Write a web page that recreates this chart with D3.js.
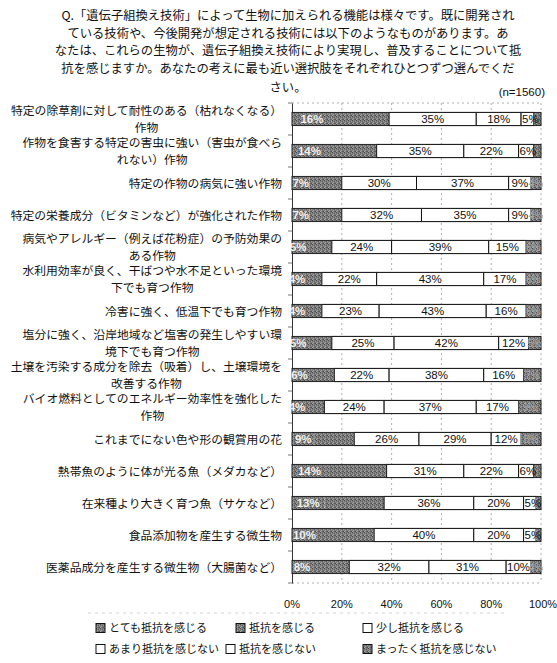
<!DOCTYPE html>
<html>
<head>
<meta charset="utf-8">
<script src="https://cdn.jsdelivr.net/npm/d3@7"></script>
<style>
  html, body { margin: 0; padding: 0; background: #fff; }
  svg { display: block; }
</style>
</head>
<body>
<div id="chart"></div>
<script>
// Question text, one entry per printed line
const titleLines = [
  "Q.「遺伝子組換え技術」によって生物に加えられる機能は様々です。既に開発され",
  "ている技術や、今後開発が想定される技術には以下のようなものがあります。あ",
  "なたは、これらの生物が、遺伝子組換え技術により実現し、普及することについて抵",
  "抗を感じますか。あなたの考えに最も近い選択肢をそれぞれひとつずつ選んでくだ",
  "さい。"
];
const sampleNote = "(n=1560)";

// Items asked about (line breaks as printed)
const categories = [
  "特定の除草剤に対して耐性のある（枯れなくなる）\n作物",
  "作物を食害する特定の害虫に強い（害虫が食べら\nれない）作物",
  "特定の作物の病気に強い作物",
  "特定の栄養成分（ビタミンなど）が強化された作物",
  "病気やアレルギー（例えば花粉症）の予防効果の\nある作物",
  "水利用効率が良く、干ばつや水不足といった環境\n下でも育つ作物",
  "冷害に強く、低温下でも育つ作物",
  "塩分に強く、沿岸地域など塩害の発生しやすい環\n境下でも育つ作物",
  "土壌を汚染する成分を除去（吸着）し、土壌環境を\n改善する作物",
  "バイオ燃料としてのエネルギー効率性を強化した\n作物",
  "これまでにない色や形の観賞用の花",
  "熱帯魚のように体が光る魚（メダカなど）",
  "在来種より大きく育つ魚（サケなど）",
  "食品添加物を産生する微生物",
  "医薬品成分を産生する微生物（大腸菌など）"
];

// Answer options, in stacking order
const seriesNames = [
  "とても抵抗を感じる",
  "抵抗を感じる",
  "少し抵抗を感じる",
  "あまり抵抗を感じない",
  "抵抗を感じない",
  "まったく抵抗を感じない"
];

// Percentages per item for each answer option
const veryStrong = [16, 14, 7, 7, 5, 4, 4, 5, 6, 4, 9, 14, 13, 10, 8];
const strong     = [23, 20, 13, 13, 11, 8, 8, 11, 11, 9, 16, 24, 24, 23, 15];
const somewhat   = [35, 35, 30, 32, 24, 22, 23, 25, 22, 24, 26, 31, 36, 40, 32];
const notMuch    = [18, 22, 37, 35, 39, 43, 43, 42, 38, 37, 29, 22, 20, 20, 31];
const noResist   = [5, 6, 9, 9, 15, 17, 16, 12, 16, 17, 12, 6, 5, 5, 10];
const notAtAll   = [3, 3, 4, 4, 6, 6, 6, 5, 7, 9, 8, 3, 2, 2, 4];

const xTicks = [0, 20, 40, 60, 80, 100];

const seriesValues = [veryStrong, strong, somewhat, notMuch, noResist, notAtAll];
const rows = categories.map((c, i) => {
  const r = { category: c };
  seriesNames.forEach((s, k) => { r[s] = seriesValues[k][i]; });
  return r;
});

const W = 557, H = 663;
const plot = { left: 292, right: 541, top: 103, bottom: 583 };
const jpFont = "'Noto Sans CJK JP', 'Noto Sans', sans-serif";
const numFont = "'Liberation Sans Narrow', 'Arial Narrow', 'Liberation Sans', Arial, sans-serif";

const svg = d3.select("#chart").append("svg")
  .attr("width", W).attr("height", H)
  .style("background", "#fff");

// Grainy grey fill used for the shaded answer options
const defs = svg.append("defs");
const pat = defs.append("pattern")
  .attr("id", "shade").attr("patternUnits", "userSpaceOnUse")
  .attr("width", 4).attr("height", 4);
pat.append("rect").attr("width", 4).attr("height", 4).attr("fill", "#7a7a7a");
[[0, 0, "#4a4a4a"], [2, 1, "#5c5c5c"], [1, 2, "#a2a2a2"], [3, 3, "#505050"], [3, 1, "#959595"], [0, 3, "#a8a8a8"], [2, 3, "#626262"], [1, 0, "#8e8e8e"]]
  .forEach(([x, y, c]) => pat.append("rect").attr("x", x).attr("y", y).attr("width", 1).attr("height", 1).attr("fill", c));

const shaded = [true, true, false, false, false, true];
const fillFor = k => shaded[k] ? "url(#shade)" : "#fff";

// Title
const title = svg.append("g").attr("font-family", jpFont).attr("font-size", 12.3).attr("fill", "#111");
titleLines.forEach((t, i) => {
  title.append("text")
    .attr("x", 288).attr("y", 20 + i * 17.6 + (i === 4 ? 2 : 0))
    .attr("text-anchor", "middle").text(t);
});
svg.append("text")
  .attr("x", 545).attr("y", 96).attr("text-anchor", "end")
  .attr("font-family", numFont).attr("font-size", 11.5).attr("fill", "#111")
  .text(sampleNote);

// Scales
const x = d3.scaleLinear().domain([0, 1]).range([plot.left, plot.right]);
const y = d3.scaleBand().domain(categories).range([plot.top, plot.bottom])
  .paddingInner(0.59).paddingOuter(0.295);

// Dashed gridlines and frame
const grid = svg.append("g").attr("stroke", "#9a9a9a").attr("stroke-width", 0.8).attr("stroke-dasharray", "2,3");
xTicks.filter(v => v > 0).forEach(v => {
  grid.append("line").attr("x1", x(v / 100)).attr("x2", x(v / 100))
    .attr("y1", plot.top).attr("y2", plot.bottom);
});
grid.append("line").attr("x1", plot.left).attr("x2", plot.right).attr("y1", plot.top).attr("y2", plot.top);
grid.append("line").attr("x1", plot.left).attr("x2", plot.right).attr("y1", plot.bottom).attr("y2", plot.bottom);

// Category axis
const yAxis = d3.axisLeft(y).tickSize(0).tickFormat("");
const yAxisG = svg.append("g").attr("transform", `translate(${plot.left},0)`).call(yAxis);
yAxisG.select(".domain").attr("stroke", "#333").attr("stroke-width", 1);
const step = y.step();
d3.range(categories.length + 1).forEach(i => {
  const yy = plot.top + i * step;
  svg.append("line").attr("x1", plot.left - 4).attr("x2", plot.left)
    .attr("y1", yy).attr("y2", yy).attr("stroke", "#555").attr("stroke-width", 0.8);
});

// Category labels, centred block ending at the axis
const labelG = svg.append("g").attr("font-family", jpFont).attr("font-size", 11.8).attr("fill", "#111");
categories.forEach(c => {
  const lines = c.split("\n");
  const cy = y(c) + y.bandwidth() / 2;
  const lh = 16.5;
  const t = labelG.append("text").attr("text-anchor", "middle");
  lines.forEach((ln, i) => {
    t.append("tspan").attr("y", cy + (i - (lines.length - 1) / 2) * lh + 4.5).text(ln);
  });
  const widths = t.selectAll("tspan").nodes().map(n => n.getComputedTextLength());
  const maxW = d3.max(widths);
  t.selectAll("tspan").attr("x", 282 - maxW / 2);
});

// Stacked bars
const stack = d3.stack().keys(seriesNames).offset(d3.stackOffsetExpand);
const stacked = stack(rows);

const barsG = svg.append("g");
stacked.forEach((layer, k) => {
  barsG.append("g").selectAll("rect").data(layer).join("rect")
    .attr("x", d => x(d[0]))
    .attr("y", d => y(d.data.category))
    .attr("width", d => x(d[1]) - x(d[0]))
    .attr("height", y.bandwidth())
    .attr("fill", fillFor(k))
    .attr("stroke", shaded[k] ? "none" : "#111")
    .attr("stroke-width", 1);
});
// Outline of each bar
barsG.append("g").selectAll("rect").data(rows).join("rect")
  .attr("x", x(0)).attr("y", d => y(d.category))
  .attr("width", x(1) - x(0)).attr("height", y.bandwidth())
  .attr("fill", "none").attr("stroke", "#222").attr("stroke-width", 1);

// Value labels (the last option is printed small and faint; slivers carry none)
const labelColor = ["#f0f0f0", null, "#111", "#111", "#111", "#a8a8a8"];
const valG = svg.append("g").attr("font-family", numFont);
stacked.forEach((layer, k) => {
  if (!labelColor[k]) return;
  const key = seriesNames[k];
  const shown = layer.filter(d => !(k === 5 && d.data[key] < 4));
  valG.append("g").selectAll("text").data(shown).join("text")
    .attr("x", d => (k === 4 && d.data[key] < 7) ? x(d[0]) + 1 : (x(d[0]) + x(d[1])) / 2)
    .attr("y", d => y(d.data.category) + y.bandwidth() / 2 + 4)
    .attr("text-anchor", d => (k === 4 && d.data[key] < 7) ? "start" : "middle")
    .attr("font-size", k === 5 ? 10 : 11.5)
    .attr("fill", labelColor[k])
    .attr("font-weight", k === 0 ? "bold" : "normal")
    .text(d => d.data[key] + "%");
});

// Percentage axis labels
const xAxisG = svg.append("g").attr("font-family", numFont).attr("font-size", 11).attr("fill", "#111");
xTicks.forEach(v => {
  xAxisG.append("text").attr("x", x(v / 100) + (v === 100 ? 2 : 0)).attr("y", 608)
    .attr("text-anchor", "middle").text(v + "%");
});
svg.append("line").attr("x1", 88).attr("x2", 505).attr("y1", 613).attr("y2", 613)
  .attr("stroke", "#c8c8c8").attr("stroke-width", 0.8).attr("stroke-dasharray", "3,4");

// Legend
const legendPos = [[96, 628], [236, 628], [363, 628], [96, 649], [226, 649], [363, 649]];
const legG = svg.append("g").attr("font-family", jpFont).attr("font-size", 11).attr("fill", "#111");
seriesNames.forEach((s, k) => {
  const [lx, ly] = legendPos[k];
  legG.append("rect").attr("x", lx).attr("y", ly - 4.5).attr("width", 9).attr("height", 9)
    .attr("fill", fillFor(k)).attr("stroke", "#111").attr("stroke-width", 1);
  legG.append("text").attr("x", lx + 13).attr("y", ly + 4).text(s);
});
</script>
</body>
</html>
